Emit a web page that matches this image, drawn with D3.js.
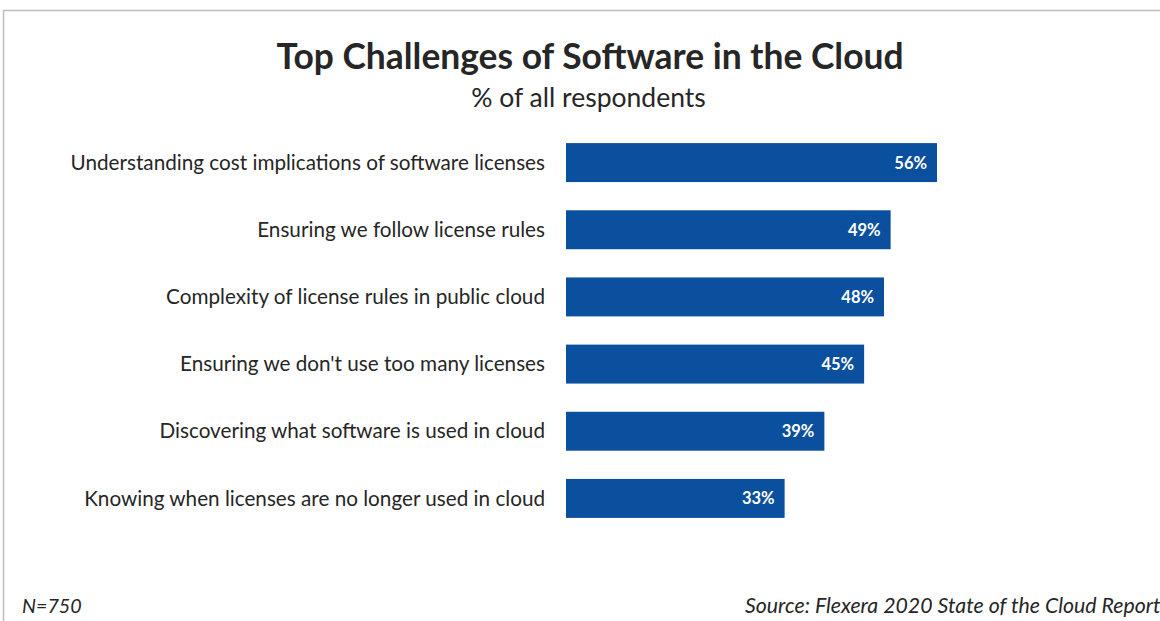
<!DOCTYPE html>
<html>
<head>
<meta charset="utf-8">
<script src="https://cdn.jsdelivr.net/npm/d3@7"></script>
<style>
  body { margin: 0; background: #fff; }
  svg { display: block; font-family: Lato, "Open Sans", sans-serif; }
</style>
</head>
<body>
<svg id="chart" width="1160" height="621"></svg>
<script>
// chart data
var categories = [
  'Understanding cost implications of software licenses',
  'Ensuring we follow license rules',
  'Complexity of license rules in public cloud',
  "Ensuring we don't use too many licenses",
  'Discovering what software is used in cloud',
  'Knowing when licenses are no longer used in cloud'
];
var values = [56, 49, 48, 45, 39, 33];
var title = 'Top Challenges of Software in the Cloud';
var subtitle = '% of all respondents';
var sampleNote = 'N=750';
var sourceNote = 'Source: Flexera 2020 State of the Cloud Report';

var svg = d3.select('#chart');
var barColor = '#0b4f9f';
var textColor = '#262626';

// frame lines (top and left)
svg.append('line').attr('x1', 3).attr('x2', 1160).attr('y1', 10.5).attr('y2', 10.5)
  .attr('stroke', '#bdbdbd').attr('stroke-width', 1.5);
svg.append('line').attr('x1', 3.5).attr('x2', 3.5).attr('y1', 10).attr('y2', 621)
  .attr('stroke', '#bdbdbd').attr('stroke-width', 1.5);

svg.append('text').attr('x', 590).attr('y', 69).attr('text-anchor', 'middle')
  .attr('font-size', 35.4).attr('font-weight', 'bold').attr('fill', textColor)
  .text(title);
svg.append('text').attr('x', 588.5).attr('y', 107).attr('text-anchor', 'middle')
  .attr('font-size', 26.5).attr('fill', textColor)
  .text(subtitle);

var x = d3.scaleLinear().domain([0, 56]).range([566, 937]);
var y = d3.scaleBand().domain(categories).range([129, 532]).paddingInner(0.42).paddingOuter(0.21);

var rows = svg.selectAll('g.row').data(categories).enter().append('g').attr('class', 'row');

rows.append('rect')
  .attr('x', x(0))
  .attr('y', function (d) { return y(d); })
  .attr('width', function (d, i) { return x(values[i]) - x(0); })
  .attr('height', y.bandwidth())
  .attr('fill', barColor);

rows.append('text')
  .attr('x', x(0) - 21)
  .attr('y', function (d) { return y(d) + y.bandwidth() / 2; })
  .attr('dy', '0.35em')
  .attr('text-anchor', 'end')
  .attr('font-size', 20.7)
  .attr('fill', textColor)
  .text(function (d) { return d; });

rows.append('text')
  .attr('x', function (d, i) { return x(values[i]) - 10; })
  .attr('y', function (d) { return y(d) + y.bandwidth() / 2; })
  .attr('dy', '0.36em')
  .attr('text-anchor', 'end')
  .attr('font-size', 16.5)
  .attr('font-weight', 'bold')
  .attr('fill', '#fff')
  .text(function (d, i) { return values[i] + '%'; });

svg.append('text').attr('x', 22).attr('y', 613)
  .attr('font-size', 19.7).attr('font-style', 'italic').attr('fill', textColor)
  .text(sampleNote);
svg.append('text').attr('x', 745).attr('y', 613)
  .attr('font-size', 21.3).attr('font-style', 'italic').attr('fill', textColor)
  .text(sourceNote);
</script>
</body>
</html>
